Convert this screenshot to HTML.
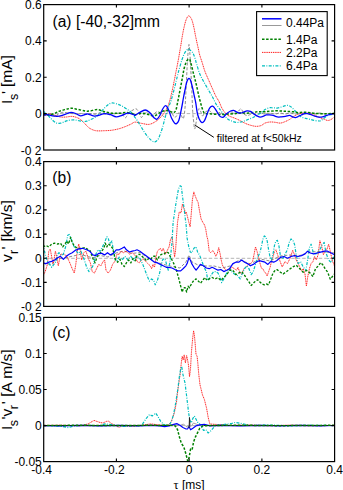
<!DOCTYPE html>
<html><head><meta charset="utf-8"><style>
html,body{margin:0;padding:0;background:#fff;width:343px;height:490px;overflow:hidden}
svg{display:block}
text{font-family:"Liberation Sans",sans-serif;fill:#000}
.t{font-size:12px}
.ax{fill:none;stroke:#000;stroke-width:1.2}
.tk{stroke:#000;stroke-width:1.1}
</style></head><body>
<svg width="343" height="490" viewBox="0 0 343 490">
<rect width="343" height="490" fill="#fff"/>
<defs>
<clipPath id="ca"><rect x="43.7" y="4.6" width="290.9" height="145.4"/></clipPath>
<clipPath id="cb"><rect x="43.7" y="161.6" width="290.9" height="144.8"/></clipPath>
<clipPath id="cc"><rect x="43.7" y="317.4" width="290.9" height="144.2"/></clipPath>
</defs>
<path d="M43.7 113.6H334.6M43.7 258.3H334.6M43.7 425.6H334.6" stroke="#b4b4b4" stroke-width="1" stroke-dasharray="3.5 2" fill="none"/>
<!-- CURVES_A -->
<g fill="none" clip-path="url(#ca)" stroke-linejoin="round">
<path d="M43.0 114.1 C43.8 114.0 46.3 113.5 47.7 113.5 C49.1 113.5 50.0 113.6 51.2 114.1 C52.4 114.6 53.5 116.4 54.7 116.4 C55.9 116.4 56.9 114.8 58.2 114.1 C59.6 113.4 61.2 112.5 62.8 112.3 C64.3 112.1 65.9 112.7 67.5 112.9 C69.1 113.1 70.7 113.3 72.2 113.5 C73.8 113.7 75.2 114.1 76.8 114.1 C78.3 114.1 80.0 113.4 81.5 113.5 C83.0 113.6 84.6 114.5 86.0 114.5 C87.4 114.5 88.5 113.5 90.0 113.5 C91.5 113.5 93.3 114.3 95.0 114.2 C96.7 114.1 98.3 113.0 100.0 113.0 C101.7 113.0 103.3 113.9 105.0 114.0 C106.7 114.1 108.3 113.5 110.0 113.5 C111.7 113.5 113.3 113.8 115.0 113.8 C116.7 113.8 118.7 112.9 120.0 113.2 C121.3 113.5 122.1 114.7 123.0 115.5 C123.9 116.3 124.5 118.0 125.3 117.9 C126.0 117.8 126.7 116.0 127.5 115.0 C128.3 114.0 129.1 112.8 130.0 112.0 C130.9 111.2 132.0 110.5 133.0 110.0 C134.0 109.5 135.1 108.5 136.0 108.7 C136.9 109.0 137.8 110.5 138.5 111.5 C139.2 112.5 139.5 114.0 140.0 115.0 C140.5 116.0 140.9 117.6 141.5 117.5 C142.1 117.4 142.8 115.4 143.5 114.5 C144.2 113.6 145.1 112.0 146.0 112.0 C146.9 112.0 148.0 113.8 149.0 114.5 C150.0 115.2 151.0 116.2 152.0 116.0 C153.0 115.8 154.0 113.8 155.0 113.0 C156.0 112.2 157.0 111.3 158.0 111.5 C159.0 111.7 160.0 113.2 161.0 114.0 C162.0 114.8 163.0 116.7 164.0 116.5 C165.0 116.3 166.0 113.9 167.0 113.0 C168.0 112.1 169.1 110.8 170.0 111.0 C170.9 111.2 171.8 112.9 172.5 114.0 C173.2 115.1 173.8 117.2 174.5 117.5 C175.2 117.8 175.8 116.8 176.5 116.0 C177.2 115.2 177.8 113.3 178.5 113.0 C179.2 112.7 179.9 113.3 180.5 114.0 C181.1 114.7 181.5 116.2 182.0 117.0 C182.5 117.8 182.9 119.4 183.3 118.7 C183.7 118.0 184.1 116.1 184.5 113.0 C184.9 109.9 185.2 105.5 185.5 100.0 C185.8 94.5 186.2 86.7 186.5 80.0 C186.8 73.3 187.2 65.0 187.5 60.0 C187.8 55.0 188.1 52.6 188.3 50.0 C188.6 47.4 188.8 44.2 189.0 44.5 C189.2 44.8 189.6 48.6 189.8 52.0 C190.1 55.4 190.2 60.3 190.5 65.0 C190.8 69.7 191.1 75.0 191.3 80.0 C191.6 85.0 191.8 89.8 192.0 95.0 C192.2 100.2 192.5 107.6 192.7 111.3 C192.9 115.0 192.9 114.9 193.1 117.0 C193.3 119.1 193.8 122.0 194.0 124.0 C194.2 126.0 194.2 128.7 194.5 129.0 C194.8 129.3 195.1 127.8 195.5 126.0 C195.9 124.2 196.3 120.8 196.8 118.0 C197.3 115.2 198.0 110.2 198.6 109.0 C199.2 107.8 199.8 109.8 200.5 111.0 C201.2 112.2 201.8 115.7 202.5 116.0 C203.2 116.3 203.5 114.0 204.5 113.0 C205.5 112.0 207.4 110.3 208.7 110.3 C209.9 110.3 210.8 112.4 212.0 113.0 C213.2 113.6 214.7 114.1 216.0 114.0 C217.3 113.9 218.7 112.4 220.0 112.5 C221.3 112.6 222.7 114.4 224.0 114.5 C225.3 114.6 226.7 113.4 228.0 113.0 C229.3 112.6 230.7 111.8 232.0 112.0 C233.3 112.2 234.5 114.5 236.0 114.0 C237.5 113.5 239.5 108.8 240.8 108.8 C242.1 108.8 242.8 112.9 244.0 114.0 C245.2 115.1 246.7 115.6 248.0 115.5 C249.3 115.4 250.7 113.7 252.0 113.5 C253.3 113.3 254.7 114.6 256.0 114.5 C257.3 114.4 258.5 113.1 260.0 113.0 C261.5 112.9 263.3 114.0 265.0 114.0 C266.7 114.0 268.3 113.2 270.0 113.2 C271.7 113.2 273.3 114.0 275.0 114.0 C276.7 114.0 278.3 113.0 280.0 113.0 C281.7 113.0 283.3 114.0 285.0 114.0 C286.7 114.0 288.3 113.0 290.0 113.0 C291.7 113.0 293.3 114.0 295.0 114.0 C296.7 114.0 298.3 113.2 300.0 113.2 C301.7 113.2 303.3 114.0 305.0 114.0 C306.7 114.0 308.3 113.0 310.0 113.0 C311.7 113.0 313.3 114.0 315.0 114.0 C316.7 114.0 318.3 113.0 320.0 113.0 C321.7 113.0 323.3 113.9 325.0 114.0 C326.7 114.1 328.4 113.5 330.0 113.5 C331.6 113.5 333.8 113.8 334.5 113.8" stroke="#808080" stroke-width="0.9" stroke-dasharray="3 1.8"/>
<path d="M43.0 115.8 C43.6 115.6 45.3 115.0 46.5 114.7 C47.7 114.4 48.6 114.0 50.0 114.1 C51.4 114.2 53.0 114.7 54.7 115.2 C56.5 115.7 58.6 116.7 60.5 117.0 C62.4 117.3 64.3 117.1 66.3 117.0 C68.2 116.9 70.2 116.2 72.2 116.4 C74.2 116.6 76.3 117.2 78.0 118.0 C79.7 118.8 81.0 119.9 82.4 121.2 C83.9 122.5 85.4 124.4 86.7 125.6 C88.0 126.8 88.5 127.7 90.0 128.5 C91.5 129.3 93.4 130.3 95.8 130.7 C98.2 131.1 101.7 130.8 104.6 130.7 C107.5 130.6 110.4 130.5 113.3 130.0 C116.2 129.5 119.2 128.8 122.1 127.8 C125.0 126.8 128.7 125.2 130.8 124.2 C133.0 123.2 133.1 122.2 135.0 122.1 C136.9 122.0 139.9 123.1 142.3 123.5 C144.7 123.9 147.2 124.8 149.6 124.3 C152.0 123.8 154.7 122.2 156.9 120.6 C159.1 119.0 161.0 116.9 162.7 114.8 C164.4 112.7 165.9 110.1 167.1 107.8 C168.3 105.5 168.8 103.7 169.7 100.8 C170.5 97.9 171.4 94.0 172.2 90.6 C173.0 87.2 173.6 83.8 174.3 80.4 C175.0 77.0 175.6 73.6 176.3 70.2 C177.0 66.8 177.6 63.8 178.3 60.0 C179.0 56.2 179.8 51.2 180.5 47.3 C181.2 43.4 181.6 40.1 182.2 36.8 C182.8 33.5 183.3 30.4 184.0 27.5 C184.7 24.6 185.5 21.2 186.3 19.3 C187.1 17.4 187.8 15.8 188.7 15.8 C189.6 15.8 190.7 17.4 191.6 19.3 C192.5 21.2 193.2 24.6 193.9 27.5 C194.6 30.4 195.0 33.5 195.7 36.8 C196.4 40.1 197.3 44.3 198.0 47.3 C198.7 50.3 199.0 52.5 199.7 55.0 C200.4 57.5 201.1 59.3 202.0 62.0 C202.9 64.7 203.8 68.4 204.9 71.3 C206.0 74.2 207.1 76.6 208.4 79.5 C209.7 82.4 211.2 86.0 212.5 88.8 C213.8 91.6 214.9 94.4 216.0 96.5 C217.1 98.6 218.0 99.6 219.0 101.5 C220.0 103.4 220.8 106.1 221.9 108.1 C223.0 110.0 224.3 111.9 225.5 113.2 C226.7 114.5 227.6 115.2 229.2 116.1 C230.8 116.9 233.2 117.5 235.0 118.3 C236.8 119.0 238.0 119.6 240.0 120.6 C242.0 121.6 244.5 123.1 247.0 124.1 C249.5 125.0 252.9 126.0 255.2 126.3 C257.5 126.5 259.4 126.1 261.0 125.6 C262.6 125.1 263.5 123.7 265.0 123.1 C266.5 122.5 268.4 122.1 270.1 122.0 C271.8 121.9 273.5 122.1 275.2 122.3 C276.9 122.5 278.6 123.2 280.3 123.1 C282.0 123.0 283.9 122.1 285.4 121.5 C286.9 120.9 288.1 120.3 289.5 119.5 C290.9 118.7 292.2 117.2 293.6 116.4 C295.0 115.6 296.4 114.9 297.7 114.4 C299.0 113.9 300.1 113.4 301.7 113.2 C303.3 113.0 305.3 112.8 307.5 113.2 C309.7 113.6 312.7 114.7 314.8 115.4 C316.9 116.2 318.5 117.0 320.1 117.7 C321.7 118.4 323.3 118.9 324.6 119.4 C325.9 119.9 326.8 120.5 327.9 120.5 C329.0 120.5 330.3 119.9 331.2 119.4 C332.1 118.9 332.8 118.1 333.4 117.7 C334.0 117.3 334.4 117.1 334.6 117.0" stroke="#ff2020" stroke-width="0.95" stroke-dasharray="1.2 0.6"/>
<path d="M43.0 110.9 C43.6 111.4 45.3 112.9 46.5 114.0 C47.7 115.1 48.8 116.3 50.0 117.5 C51.2 118.7 52.3 120.0 53.5 121.0 C54.7 122.0 55.8 122.8 57.0 123.2 C58.2 123.6 59.3 123.4 60.5 123.2 C61.7 123.0 62.8 122.3 64.0 121.9 C65.2 121.5 66.0 120.9 67.5 120.6 C69.0 120.3 71.5 119.9 73.3 119.9 C75.0 119.9 76.4 120.2 78.0 120.5 C79.6 120.8 81.5 121.4 83.0 121.5 C84.5 121.6 85.5 121.5 86.7 121.2 C87.9 120.9 88.5 120.5 90.0 119.8 C91.5 119.1 93.8 118.4 95.8 116.9 C97.8 115.4 99.8 113.0 101.7 111.0 C103.7 109.0 105.8 106.5 107.5 105.2 C109.2 103.9 110.2 103.2 111.9 103.0 C113.6 102.8 116.0 103.7 117.7 104.2 C119.4 104.7 120.6 105.3 122.0 106.0 C123.4 106.7 124.6 107.6 126.0 108.6 C127.4 109.6 128.9 110.2 130.5 111.8 C132.1 113.4 133.9 115.8 135.5 118.0 C137.1 120.2 138.6 122.8 140.0 125.0 C141.4 127.2 142.7 129.5 144.0 131.5 C145.3 133.5 146.8 135.5 148.0 137.0 C149.2 138.5 150.5 139.7 151.5 140.5 C152.5 141.3 153.2 141.7 154.0 141.8 C154.8 141.9 155.8 141.6 156.5 141.0 C157.2 140.4 157.8 139.8 158.5 138.5 C159.2 137.2 159.8 135.3 160.5 133.5 C161.2 131.7 161.8 129.8 162.5 127.5 C163.2 125.2 163.9 122.3 164.5 120.0 C165.1 117.7 165.6 115.8 166.3 113.5 C167.0 111.2 168.0 108.7 168.8 106.5 C169.6 104.3 170.4 102.9 171.2 100.2 C172.0 97.5 173.0 93.9 173.8 90.6 C174.7 87.3 175.5 83.8 176.3 80.4 C177.2 77.0 178.0 73.6 178.9 70.2 C179.8 66.8 181.1 62.6 181.9 60.0 C182.8 57.4 183.3 55.8 184.0 54.3 C184.7 52.8 185.3 51.9 186.0 51.0 C186.7 50.1 187.4 49.3 188.1 49.1 C188.8 48.9 189.3 49.5 190.0 50.0 C190.7 50.5 191.6 51.2 192.2 52.0 C192.8 52.8 193.3 53.9 193.8 55.0 C194.3 56.1 194.6 57.0 195.1 58.5 C195.6 60.0 195.9 61.8 196.7 64.3 C197.5 66.8 198.6 71.0 199.7 73.7 C200.8 76.4 201.8 78.2 203.2 80.7 C204.5 83.2 206.2 86.1 207.8 88.8 C209.4 91.5 211.1 94.5 212.5 97.0 C213.9 99.5 214.9 102.2 216.0 104.0 C217.1 105.8 217.8 106.4 219.0 108.1 C220.2 109.8 221.9 112.2 223.3 114.0 C224.8 115.8 226.2 117.8 227.7 119.0 C229.2 120.2 230.6 120.6 232.1 121.2 C233.6 121.8 234.9 122.4 236.4 122.5 C237.9 122.6 239.5 122.2 240.8 122.0 C242.1 121.8 243.1 121.5 244.4 121.0 C245.7 120.5 247.2 119.8 248.7 119.2 C250.1 118.6 251.6 118.2 253.1 117.5 C254.6 116.8 256.0 115.8 257.5 114.9 C259.0 114.0 260.6 113.1 261.9 112.2 C263.1 111.3 263.8 110.2 265.0 109.5 C266.2 108.8 267.7 108.1 269.1 107.8 C270.5 107.5 271.9 107.8 273.2 107.8 C274.5 107.8 275.8 108.2 277.2 108.1 C278.6 108.0 279.9 107.4 281.3 107.0 C282.7 106.6 284.2 106.0 285.4 105.7 C286.6 105.4 287.5 105.2 288.5 105.4 C289.5 105.7 290.5 106.4 291.5 107.2 C292.5 108.0 293.6 109.3 294.6 110.3 C295.6 111.3 296.4 112.3 297.5 113.4 C298.6 114.5 299.9 116.2 301.3 117.0 C302.7 117.8 304.3 117.9 305.8 118.3 C307.3 118.7 308.7 119.0 310.2 119.4 C311.7 119.8 313.1 120.2 314.6 120.5 C316.1 120.8 317.9 121.0 319.0 121.0 C320.1 121.0 320.4 121.0 321.3 120.5 C322.2 120.0 323.5 118.5 324.6 117.7 C325.7 116.9 326.6 116.0 327.9 115.5 C329.2 115.0 331.2 114.6 332.3 114.4 C333.4 114.2 334.2 114.2 334.6 114.2" stroke="#00bfbf" stroke-width="1.2" stroke-dasharray="3 1.4 0.9 1.4"/>
<path d="M43.0 114.2 C43.6 114.3 45.3 114.7 46.5 114.8 C47.7 114.9 48.5 115.3 50.0 115.0 C51.5 114.7 53.8 113.7 55.2 113.1 C56.7 112.5 57.4 111.9 58.7 111.4 C60.0 110.9 61.6 110.5 63.1 110.1 C64.6 109.7 66.0 109.2 67.5 108.9 C69.0 108.6 70.5 108.2 72.2 108.3 C74.0 108.4 75.8 109.0 78.0 109.4 C80.2 109.9 83.3 110.7 85.3 111.0 C87.3 111.3 88.0 111.2 90.0 111.0 C92.0 110.8 94.9 109.5 97.3 109.6 C99.7 109.7 102.2 111.2 104.6 111.8 C107.0 112.4 109.5 113.0 111.9 113.2 C114.3 113.4 116.8 113.3 119.2 113.2 C121.6 113.1 124.0 112.4 126.4 112.5 C128.8 112.6 132.3 113.6 133.7 114.0 C135.1 114.4 133.6 114.9 135.0 114.8 C136.4 114.7 139.9 113.3 142.3 113.3 C144.7 113.3 147.4 114.4 149.6 114.8 C151.8 115.2 153.5 116.0 155.4 115.5 C157.3 115.0 159.2 112.8 161.2 111.9 C163.1 111.1 165.4 110.4 167.1 110.4 C168.8 110.4 170.2 111.6 171.4 111.9 C172.6 112.2 173.2 112.9 174.0 112.5 C174.8 112.1 175.3 111.7 176.0 109.7 C176.7 107.8 177.2 104.0 177.9 100.8 C178.6 97.6 179.2 94.0 179.9 90.6 C180.6 87.2 181.3 83.5 181.9 80.4 C182.5 77.3 183.0 74.2 183.4 72.0 C183.8 69.8 184.1 68.6 184.5 67.0 C184.9 65.4 185.5 63.7 186.0 62.5 C186.5 61.3 187.0 60.5 187.5 60.0 C188.0 59.5 188.4 59.2 188.8 59.2 C189.2 59.2 189.6 59.0 190.0 60.0 C190.4 61.0 190.9 63.0 191.5 65.5 C192.1 68.0 193.0 71.7 193.8 74.8 C194.6 77.9 195.4 80.9 196.2 84.2 C197.0 87.5 197.9 91.9 198.5 94.6 C199.1 97.3 199.4 98.2 199.9 100.2 C200.4 102.2 201.0 104.5 201.6 106.4 C202.2 108.3 202.8 110.4 203.4 111.6 C204.0 112.8 204.1 113.2 205.1 113.6 C206.1 114.0 206.7 113.6 209.5 113.8 C212.3 114.0 216.9 114.6 222.0 114.5 C227.1 114.4 235.6 113.3 240.0 113.1 C244.4 112.9 245.8 113.3 248.7 113.1 C251.6 112.9 254.8 112.0 257.5 111.8 C260.2 111.6 262.1 112.0 265.0 111.8 C267.9 111.6 271.8 110.9 275.2 110.8 C278.6 110.7 282.3 111.1 285.4 111.3 C288.5 111.5 291.5 111.6 293.6 111.8 C295.7 112.0 296.2 112.6 298.0 112.7 C299.8 112.8 301.8 112.1 304.6 112.2 C307.4 112.3 311.1 113.0 314.6 113.3 C318.1 113.6 322.4 113.8 325.7 113.8 C329.0 113.8 333.1 113.4 334.6 113.3" stroke="#008000" stroke-width="1.5" stroke-dasharray="2.5 1.6"/>
<path d="M43.0 115.2 C43.8 115.1 46.2 114.6 47.7 114.7 C49.2 114.8 50.8 115.5 52.3 115.8 C53.8 116.1 55.3 116.5 57.0 116.4 C58.7 116.3 60.5 115.8 62.3 115.3 C64.0 114.8 66.0 114.0 67.5 113.5 C69.0 113.0 69.6 112.3 71.0 112.3 C72.4 112.3 74.1 112.9 75.7 113.5 C77.3 114.1 78.7 115.7 80.5 115.8 C82.3 115.9 85.1 114.2 86.7 114.0 C88.3 113.8 88.7 114.4 90.0 114.7 C91.3 115.0 93.0 116.0 94.4 116.1 C95.9 116.2 97.0 115.8 98.7 115.4 C100.4 115.0 102.6 113.8 104.6 113.7 C106.5 113.6 108.5 114.2 110.4 114.7 C112.3 115.2 114.2 116.8 116.2 116.9 C118.2 117.0 120.1 116.0 122.1 115.4 C124.0 114.8 126.0 113.3 127.9 113.2 C129.8 113.1 132.5 114.4 133.7 114.7 C134.9 115.0 134.1 115.7 135.0 115.3 C135.9 114.9 137.7 113.5 139.4 112.6 C141.1 111.7 143.5 110.0 145.2 110.0 C146.9 110.0 148.1 111.3 149.6 112.6 C151.1 113.9 152.8 116.6 154.0 117.7 C155.2 118.8 155.9 119.6 156.9 119.2 C157.9 118.8 158.8 117.2 159.8 115.5 C160.8 113.8 161.7 110.6 162.7 109.0 C163.7 107.4 164.6 105.6 165.6 105.7 C166.6 105.8 167.5 107.7 168.5 109.7 C169.5 111.7 170.4 115.5 171.4 117.7 C172.4 119.9 173.6 121.8 174.4 122.8 C175.2 123.8 175.8 124.0 176.5 123.6 C177.2 123.2 178.1 122.2 178.8 120.4 C179.5 118.6 180.1 115.4 180.6 113.0 C181.1 110.6 181.5 108.6 182.0 106.0 C182.5 103.4 183.0 100.2 183.5 97.5 C184.0 94.8 184.5 92.4 185.0 90.0 C185.5 87.6 186.0 84.8 186.5 83.0 C187.0 81.2 187.5 80.0 188.0 79.2 C188.5 78.5 188.9 78.3 189.3 78.5 C189.7 78.7 190.0 78.8 190.5 80.3 C191.0 81.8 191.8 84.7 192.5 87.5 C193.2 90.3 193.9 94.3 194.5 97.0 C195.1 99.7 195.5 101.1 195.9 103.7 C196.3 106.3 196.7 110.0 197.2 112.5 C197.7 115.0 198.3 116.9 199.0 118.6 C199.7 120.2 200.7 122.0 201.6 122.4 C202.5 122.8 203.4 122.3 204.2 121.2 C205.0 120.1 205.7 117.9 206.4 116.0 C207.1 114.1 207.9 111.4 208.6 109.9 C209.3 108.4 210.1 107.4 210.8 106.8 C211.5 106.2 211.9 106.0 212.6 106.2 C213.2 106.4 213.9 107.0 214.7 108.1 C215.5 109.1 216.5 111.1 217.4 112.5 C218.3 113.9 219.2 115.6 220.0 116.4 C220.8 117.2 221.8 117.3 222.5 117.3 C223.2 117.3 223.9 116.8 224.5 116.2 C225.1 115.7 225.2 114.9 226.2 114.0 C227.2 113.1 229.4 111.6 230.6 111.0 C231.8 110.4 232.5 110.2 233.5 110.3 C234.5 110.4 235.3 111.3 236.4 111.8 C237.5 112.3 238.8 113.0 240.0 113.1 C241.2 113.2 242.3 112.6 243.5 112.2 C244.7 111.8 245.8 111.0 247.0 110.9 C248.2 110.8 249.3 110.9 250.5 111.4 C251.7 111.9 252.8 113.2 254.0 114.0 C255.2 114.8 256.5 115.7 257.5 116.2 C258.5 116.7 259.1 117.1 260.1 117.1 C261.1 117.1 262.6 116.6 263.6 116.2 C264.6 115.8 265.3 115.1 266.2 114.9 C267.1 114.7 267.9 114.8 269.1 114.9 C270.3 115.0 271.9 115.1 273.2 115.4 C274.5 115.7 275.8 116.7 277.2 116.9 C278.6 117.2 279.9 117.0 281.3 116.9 C282.7 116.8 284.0 116.7 285.4 116.4 C286.8 116.2 288.3 115.3 289.5 115.4 C290.7 115.5 291.6 116.5 292.6 116.9 C293.6 117.3 294.7 117.6 295.6 117.6 C296.5 117.5 297.1 117.0 298.0 116.6 C298.9 116.2 300.0 115.5 301.3 115.0 C302.6 114.5 304.3 113.4 305.8 113.3 C307.3 113.2 308.7 113.9 310.2 114.4 C311.7 114.9 313.1 115.6 314.6 116.1 C316.1 116.6 317.5 117.1 319.0 117.2 C320.5 117.3 322.0 117.0 323.5 116.6 C325.0 116.2 326.4 115.5 327.9 115.0 C329.4 114.5 331.2 114.0 332.3 113.8 C333.4 113.6 334.2 113.8 334.6 113.8" stroke="#0000ff" stroke-width="1.3"/>
</g>
<!-- /CURVES_A -->
<!-- CURVES_B -->
<g fill="none" clip-path="url(#cb)" stroke-linejoin="round">
<path d="M43.0 263.6 L51.7 264.4 L57.6 258.5 L64.9 257.8 L75.1 255.6 L80.9 254.2 L86.7 256.3 L93.0 257.8 L100.0 255.5 L108.0 257.0 L116.0 253.0 L124.0 251.0 L132.0 253.5 L140.0 252.5 L148.0 258.0 L156.0 262.0 L164.0 264.5 L172.0 266.5 L180.0 268.0 L186.0 262.0 L189.0 255.0 L192.0 262.0 L198.0 265.0 L206.0 266.0 L214.0 266.0 L222.0 268.0 L230.0 266.0 L240.0 259.5 L250.0 264.0 L260.0 259.0 L270.0 261.0 L280.0 256.0 L290.0 255.0 L300.0 255.5 L310.0 252.0 L320.0 251.5 L334.5 253.0" stroke="#808080" stroke-width="0.9" stroke-dasharray="3 1.8"/>
<path d="M43.0 276.0 L45.2 271.6 L47.4 264.4 L48.8 251.2 L50.3 249.1 L51.7 257.1 L53.2 264.4 L55.4 251.2 L56.8 257.1 L58.3 265.8 L60.5 254.2 L63.4 254.2 L66.3 255.6 L69.2 261.4 L72.2 268.7 L74.3 273.1 L75.8 264.4 L77.3 251.2 L78.7 244.0 L80.2 249.8 L81.6 260.0 L83.8 252.7 L86.0 251.2 L88.2 258.5 L90.4 262.9 L92.2 271.6 L94.4 273.1 L96.6 268.7 L98.7 264.4 L100.9 265.8 L103.1 261.4 L104.6 260.0 L106.0 270.2 L108.2 273.1 L110.4 270.2 L112.6 264.4 L114.8 261.4 L117.0 254.2 L119.2 254.2 L121.3 251.2 L123.5 252.7 L126.4 251.2 L129.4 254.2 L132.3 252.7 L135.2 255.6 L137.0 261.4 L139.2 262.9 L141.4 260.0 L143.6 259.3 L145.7 261.4 L147.9 263.6 L150.1 265.8 L151.6 268.7 L153.0 264.4 L154.5 267.3 L156.0 257.1 L157.4 251.2 L158.9 249.8 L160.3 248.3 L161.8 251.2 L163.2 248.3 L165.4 254.2 L167.6 249.8 L169.1 246.9 L170.5 239.6 L172.0 236.7 L173.4 246.9 L174.6 257.1 L175.6 249.8 L176.7 233.7 L177.5 222.5 L179.2 212.0 L181.0 212.9 L182.4 204.1 L183.6 207.6 L184.5 209.4 L185.4 213.7 L186.2 212.0 L187.6 217.2 L188.9 222.5 L190.1 226.8 L191.1 215.5 L192.4 199.7 L193.8 191.9 L195.0 195.4 L196.7 199.7 L198.1 202.4 L199.4 210.2 L201.1 219.0 L202.9 222.5 L204.6 225.1 L205.8 229.5 L206.9 236.5 L207.8 239.6 L209.2 251.2 L210.7 252.7 L212.9 250.5 L214.3 252.7 L215.8 256.3 L217.3 253.4 L218.7 247.6 L220.2 254.2 L221.2 260.0 L222.4 265.1 L224.5 268.7 L226.7 270.2 L229.6 268.7 L232.2 267.3 L234.4 268.7 L236.6 270.2 L238.0 267.3 L239.5 271.6 L241.7 274.6 L243.8 268.7 L246.0 267.3 L248.2 264.4 L250.4 263.6 L252.6 261.4 L254.1 254.2 L255.5 246.9 L257.0 251.2 L258.4 257.1 L259.9 262.9 L261.3 268.0 L262.8 268.7 L264.3 271.6 L265.7 273.1 L267.2 276.0 L268.6 271.6 L270.1 267.3 L271.5 261.4 L273.0 257.1 L274.5 251.2 L275.9 249.8 L277.4 254.2 L279.6 260.0 L282.2 267.0 L284.9 261.7 L287.5 263.5 L290.1 258.2 L292.7 250.4 L294.5 254.7 L296.2 260.0 L298.9 265.2 L301.5 270.5 L303.2 268.7 L305.0 274.0 L306.4 286.2 L307.6 277.5 L309.4 268.7 L311.1 263.5 L312.9 261.7 L314.6 256.5 L316.4 260.0 L318.1 254.7 L319.9 240.7 L321.6 246.0 L323.4 254.7 L325.1 251.2 L326.9 249.5 L328.6 244.2 L330.3 251.2 L332.1 260.0 L334.5 266.0" stroke="#ff2020" stroke-width="0.95" stroke-dasharray="1.2 0.6"/>
<path d="M43.0 244.0 L45.2 254.2 L47.4 261.4 L49.6 264.4 L51.7 267.3 L53.9 264.4 L56.1 261.4 L57.6 254.2 L59.0 252.7 L61.2 255.6 L63.4 254.2 L65.6 246.9 L67.8 235.2 L69.2 234.5 L71.4 239.6 L73.6 245.4 L75.8 249.8 L78.0 253.4 L80.9 251.2 L83.8 258.5 L86.7 267.3 L88.9 271.6 L90.0 269.0 L92.2 267.3 L93.6 264.4 L95.8 254.2 L98.0 249.8 L100.2 251.2 L102.4 246.9 L104.6 242.5 L106.8 236.7 L108.2 238.1 L109.7 244.0 L111.9 241.0 L113.3 249.8 L114.8 258.5 L117.0 261.4 L119.2 257.1 L122.1 260.0 L125.0 256.3 L127.9 260.0 L130.8 256.3 L133.7 260.0 L136.6 256.3 L139.9 258.5 L142.8 264.4 L145.0 270.2 L147.2 276.0 L149.4 281.1 L151.6 278.9 L153.8 280.4 L155.2 284.8 L157.4 280.4 L159.6 273.1 L161.1 265.8 L162.5 260.0 L164.0 258.5 L165.4 260.0 L166.9 265.8 L168.3 270.2 L169.8 262.9 L170.8 254.2 L172.0 242.5 L173.1 222.5 L175.7 205.0 L178.4 189.2 L180.1 185.7 L181.3 186.6 L182.7 198.0 L184.5 212.0 L186.2 226.0 L187.1 238.1 L188.8 246.9 L190.3 252.0 L191.7 252.7 L193.9 248.3 L196.1 246.9 L197.6 252.0 L199.8 255.6 L202.0 261.4 L204.1 267.3 L206.3 271.6 L207.8 280.4 L209.2 278.9 L211.4 274.6 L213.6 271.6 L215.8 271.6 L218.0 273.1 L220.2 277.5 L221.6 282.6 L223.8 278.9 L226.7 273.1 L229.6 268.7 L232.9 273.1 L235.8 274.6 L238.0 276.0 L240.2 278.9 L242.4 273.1 L244.6 268.7 L246.8 265.8 L249.0 268.7 L251.1 274.6 L253.3 271.6 L255.5 264.4 L257.7 257.1 L259.9 252.7 L261.3 246.9 L262.8 239.6 L264.3 235.9 L265.7 236.7 L267.2 241.0 L268.6 249.8 L270.1 257.1 L271.5 260.0 L273.0 254.2 L274.5 245.4 L275.9 241.0 L277.4 240.3 L278.8 245.0 L280.5 256.5 L283.1 258.2 L285.7 253.0 L287.5 249.5 L289.2 242.5 L291.0 239.0 L292.7 239.9 L294.5 244.2 L296.2 254.7 L298.0 263.5 L300.6 261.7 L303.2 267.0 L305.9 270.5 L307.6 260.0 L309.4 247.7 L311.1 244.2 L312.9 251.2 L314.6 254.7 L317.2 253.0 L319.9 249.5 L322.5 244.2 L324.2 242.5 L326.0 253.0 L328.6 260.0 L331.2 262.6 L334.5 255.0" stroke="#00bfbf" stroke-width="1.2" stroke-dasharray="3 1.4 0.9 1.4"/>
<path d="M43.0 246.9 L45.9 245.4 L48.8 246.9 L51.7 244.0 L54.7 243.2 L57.6 244.0 L60.5 243.2 L62.7 246.9 L64.9 244.0 L67.0 241.0 L68.5 244.0 L70.7 237.4 L72.2 242.5 L74.3 246.1 L77.3 248.3 L80.9 248.3 L85.3 247.6 L88.0 249.5 L90.0 250.5 L92.9 258.5 L95.1 262.9 L97.3 256.3 L99.5 254.2 L101.7 251.2 L103.8 248.3 L105.3 243.2 L106.8 246.9 L108.2 244.0 L110.4 245.4 L112.6 248.3 L114.1 254.2 L115.5 260.0 L117.7 262.2 L119.9 259.3 L122.1 264.4 L124.3 266.5 L126.4 262.9 L128.6 260.0 L130.8 262.9 L133.0 258.5 L135.2 260.7 L137.0 255.6 L139.2 254.2 L141.4 255.6 L144.3 258.5 L146.5 260.7 L148.7 258.5 L150.8 259.3 L153.0 256.3 L155.2 256.3 L157.4 260.0 L159.6 255.6 L161.8 254.2 L164.0 254.2 L166.2 252.0 L168.3 252.7 L169.8 255.6 L172.0 260.0 L174.2 264.4 L176.4 270.2 L178.5 277.5 L180.7 286.2 L182.2 292.1 L183.6 287.7 L185.2 287.7 L186.6 292.1 L188.1 286.2 L189.6 287.7 L191.7 283.3 L193.9 280.4 L196.1 278.9 L198.3 281.1 L200.5 283.3 L202.7 280.4 L204.9 277.5 L207.1 280.4 L209.2 278.9 L212.2 277.5 L215.1 278.9 L218.0 277.5 L220.9 280.4 L223.8 277.5 L226.7 274.6 L229.6 270.2 L232.9 270.2 L235.8 274.6 L238.7 273.1 L241.7 271.6 L244.6 275.3 L246.8 278.9 L249.0 281.9 L251.1 285.5 L253.3 283.3 L255.5 281.1 L257.7 279.7 L259.9 281.9 L262.1 284.0 L264.3 284.8 L266.4 284.0 L268.6 284.8 L270.8 278.9 L273.0 273.1 L275.2 270.2 L277.0 269.6 L280.5 272.2 L283.1 274.0 L285.7 272.2 L289.2 269.6 L292.7 267.0 L296.2 265.2 L299.7 268.7 L303.2 272.2 L306.7 270.5 L310.2 273.1 L312.9 276.6 L315.5 268.7 L318.1 266.1 L320.7 262.6 L322.5 264.4 L325.1 268.7 L327.7 272.2 L330.3 279.2 L333.0 275.7 L334.5 274.0" stroke="#008000" stroke-width="1.35" stroke-dasharray="2.4 1.6"/>
<path d="M43.0 262.9 L45.9 263.6 L48.8 262.2 L51.7 261.4 L54.7 260.0 L57.6 257.8 L60.5 256.3 L63.4 259.3 L66.3 256.3 L69.2 254.2 L72.2 252.7 L75.1 250.5 L78.0 249.1 L82.4 248.3 L86.7 249.8 L89.6 251.2 L92.9 254.9 L95.8 255.6 L98.7 253.4 L101.7 253.4 L104.6 254.9 L107.5 252.7 L110.4 254.9 L113.3 253.4 L116.2 249.8 L119.2 249.8 L122.1 248.3 L124.3 246.9 L126.4 249.8 L129.4 252.0 L132.3 251.2 L135.2 250.5 L137.0 249.8 L139.9 251.2 L142.8 253.4 L145.7 255.6 L148.7 257.8 L151.6 260.0 L154.5 262.2 L157.4 262.9 L160.3 264.4 L163.2 265.8 L166.2 267.3 L169.1 267.3 L172.0 268.0 L174.9 269.5 L177.8 270.9 L180.7 270.9 L183.3 268.5 L185.9 265.8 L187.4 262.9 L188.8 257.8 L190.3 260.0 L191.7 263.6 L193.9 267.3 L196.1 270.2 L198.3 267.3 L200.5 264.4 L203.4 265.8 L206.3 268.0 L209.2 268.7 L212.2 267.3 L215.1 268.7 L218.0 270.2 L220.9 269.5 L223.8 271.6 L226.7 270.2 L229.6 268.7 L232.9 263.6 L235.8 262.2 L238.7 262.2 L241.7 260.0 L244.6 262.2 L247.5 263.6 L250.4 265.8 L253.3 264.4 L256.2 262.2 L259.2 260.7 L262.1 261.4 L265.0 262.2 L267.9 264.4 L270.8 261.4 L273.7 262.2 L276.6 260.7 L280.5 257.4 L284.0 256.5 L287.5 258.2 L291.0 256.5 L294.5 255.6 L298.0 256.5 L301.5 255.6 L305.0 253.9 L307.6 251.2 L310.2 253.0 L313.7 253.9 L317.2 253.0 L320.7 252.1 L324.2 251.2 L327.7 251.2 L331.2 253.0 L334.5 254.7" stroke="#0000ff" stroke-width="1.2"/>
</g>
<!-- /CURVES_B -->
<!-- CURVES_C -->
<g fill="none" clip-path="url(#cc)" stroke-linejoin="round">
<path d="M43.0 425.5 L60.0 425.2 L80.0 425.8 L88.0 424.0 L94.0 420.4 L100.0 422.5 L103.0 423.0 L106.3 421.4 L108.5 421.2 L112.0 423.9 L115.5 425.6 L119.0 427.4 L122.5 425.6 L131.2 426.5 L140.0 425.6 L150.5 423.9 L157.5 424.7 L165.0 425.6 L168.6 425.0 L171.4 421.4 L174.3 412.9 L176.5 402.0 L177.6 392.0 L178.8 383.3 L180.3 373.1 L181.3 362.9 L182.2 356.3 L183.2 360.0 L184.2 354.9 L185.4 362.9 L186.6 355.6 L187.6 360.0 L188.6 365.8 L189.5 376.7 L190.5 368.7 L191.5 351.2 L192.7 338.1 L193.6 330.8 L194.4 335.2 L195.3 345.4 L196.0 354.2 L197.1 356.3 L197.8 362.9 L198.8 374.6 L200.0 384.8 L201.3 390.0 L202.5 395.0 L204.3 399.2 L206.6 408.3 L208.2 417.5 L209.7 423.6 L211.1 424.1 L217.2 424.5 L230.0 425.5 L250.0 425.0 L270.0 425.8 L290.0 425.2 L310.0 425.8 L334.5 425.4" stroke="#ff2020" stroke-width="0.95" stroke-dasharray="1.2 0.6"/>
<path d="M43.0 425.5 L55.0 425.8 L62.0 426.5 L68.5 427.6 L74.0 426.0 L85.0 425.3 L100.0 425.6 L105.0 423.9 L112.0 424.7 L122.5 426.5 L140.0 425.6 L142.6 423.9 L146.1 418.6 L149.6 414.5 L152.2 416.0 L155.7 413.1 L157.9 416.4 L160.7 421.4 L163.6 424.3 L166.4 425.7 L169.3 425.0 L171.4 421.4 L173.6 414.3 L175.7 402.9 L177.9 388.6 L179.3 377.1 L180.7 368.6 L181.7 366.4 L182.9 374.3 L185.0 382.9 L186.5 395.0 L188.3 410.0 L189.5 419.0 L190.5 421.5 L191.3 422.9 L192.9 418.3 L194.4 416.0 L195.9 419.0 L197.5 422.1 L199.0 422.9 L201.3 426.7 L203.6 430.5 L205.9 429.5 L208.1 433.0 L211.1 430.6 L215.2 425.5 L223.4 424.5 L231.5 423.5 L235.6 422.4 L241.7 423.5 L249.9 425.5 L270.0 425.0 L290.0 425.8 L310.0 425.2 L334.5 425.6" stroke="#00bfbf" stroke-width="1.2" stroke-dasharray="3 1.4 0.9 1.4"/>
<path d="M168.0 425.5 L175.0 425.0 L180.0 425.5 L183.5 424.0 L186.0 426.5 L188.0 427.0 L189.5 426.0 L191.0 426.5 L193.5 423.0 L196.0 424.0 L200.0 425.5 L206.0 425.5" stroke="#999" stroke-width="0.9"/>
<path d="M43.0 425.6 L60.0 425.9 L80.0 425.3 L100.0 425.8 L120.0 425.4 L140.0 425.8 L150.0 425.4 L160.0 425.9 L164.6 426.7 L169.2 425.9 L173.8 424.4 L176.8 423.6 L179.9 425.2 L182.9 427.5 L186.0 429.0 L187.5 429.0 L189.1 426.7 L190.6 429.8 L192.9 428.2 L195.9 425.9 L199.8 424.9 L204.3 424.4 L210.0 425.9 L220.0 425.4 L240.0 425.8 L260.0 425.3 L280.0 425.8 L300.0 425.4 L320.0 425.8 L334.5 425.5" stroke="#0000ff" stroke-width="1.2"/>
<path d="M43.7 425.5 L100.0 425.6 L150.0 425.4 L170.0 425.5 M204.0 425.5 L250.0 425.6 L300.0 425.4 L334.6 425.5" stroke="#1a1a1a" stroke-width="0.9"/>
<path d="M43.0 425.5 L80.0 425.3 L120.0 425.6 L150.0 425.3 L160.0 425.4 L169.2 425.2 L175.3 425.9 L177.6 429.8 L179.1 435.9 L181.4 443.5 L183.7 446.6 L186.0 454.2 L187.5 460.3 L188.3 461.1 L189.4 455.7 L190.6 448.9 L192.1 449.6 L193.6 442.0 L195.2 437.4 L197.5 432.8 L199.8 428.2 L202.8 425.9 L210.0 425.5 L240.0 425.2 L280.0 425.7 L334.5 425.3" stroke="#008000" stroke-width="1.5" stroke-dasharray="2.5 1.6"/>
<path d="M189.1 428.0 L189.5 417.5 L189.9 426.0" stroke="#222" stroke-width="1"/>
</g>
<!-- /CURVES_C -->
<!-- axes boxes -->
<rect class="ax" x="43.7" y="4.6" width="290.9" height="145.4"/>
<rect class="ax" x="43.7" y="161.6" width="290.9" height="144.8"/>
<rect class="ax" x="43.7" y="317.4" width="290.9" height="144.2"/>
<!-- ticks -->
<g class="tk">
<!-- panel a y ticks -->
<path d="M43.7 40.9h3M43.7 77.3h3M43.7 113.6h3M334.6 40.9h-3M334.6 77.3h-3M334.6 113.6h-3"/>
<!-- panel b y ticks -->
<path d="M43.7 185.8h3M43.7 209.9h3M43.7 234.1h3M43.7 258.3h3M43.7 282.4h3M334.6 185.8h-3M334.6 209.9h-3M334.6 234.1h-3M334.6 258.3h-3M334.6 282.4h-3"/>
<!-- panel c y ticks -->
<path d="M43.7 353.5h3M43.7 389.5h3M43.7 425.6h3M334.6 353.5h-3M334.6 389.5h-3M334.6 425.6h-3"/>
<!-- x ticks -->
<path d="M116.4 4.6v3M189.1 4.6v3M261.9 4.6v3M116.4 150v-3M189.1 150v-3M261.9 150v-3"/>
<path d="M116.4 161.6v3M189.1 161.6v3M261.9 161.6v3M116.4 306.4v-3M189.1 306.4v-3M261.9 306.4v-3"/>
<path d="M116.4 317.4v3M189.1 317.4v3M261.9 317.4v3M116.4 461.6v-3M189.1 461.6v-3M261.9 461.6v-3"/>
</g>
<!-- y tick labels -->
<g class="t" text-anchor="end">
<text x="41.8" y="8.8">0.6</text>
<text x="41.8" y="45.2">0.4</text>
<text x="41.8" y="81.6">0.2</text>
<text x="41.8" y="117.9">0</text>
<text x="41.5" y="155">-0 2</text>
<text x="41.8" y="165.8">0.4</text>
<text x="41.8" y="190.1">0.3</text>
<text x="41.8" y="214.2">0.2</text>
<text x="41.8" y="238.4">0.1</text>
<text x="41.8" y="262.6">0</text>
<text x="41.8" y="286.7">-0.1</text>
<text x="41.8" y="310.5">-0 2</text>
<text x="41.8" y="321.6">0.15</text>
<text x="41.8" y="357.8">0.1</text>
<text x="41.8" y="393.8">0.05</text>
<text x="41.8" y="429.9">0</text>
<text x="41.8" y="466.4">-0.05</text>
</g>
<!-- x tick labels -->
<g class="t" text-anchor="middle">
<text x="41.6" y="474.3">-0.4</text>
<text x="114.4" y="474.3">-0.2</text>
<text x="189.1" y="474.3">0</text>
<text x="261.9" y="474.3">0.2</text>
<text x="334.6" y="474.3">0.4</text>
</g>
<text x="189.1" y="488.5" font-size="12" text-anchor="middle"><tspan font-family="Liberation Serif" font-size="12.5">τ</tspan> [ms]</text>
<!-- panel labels -->
<text x="52.5" y="27" font-size="15.6">(a) [-40,-32]mm</text>
<text x="52.3" y="182.5" font-size="15.6">(b)</text>
<text x="52.3" y="338" font-size="15.6">(c)</text>
<!-- y axis labels -->
<g transform="rotate(-90)">
<text x="-101.9" y="12" font-size="15.5" text-anchor="middle">I</text>
<text x="-96.9" y="17.6" font-size="12.5" text-anchor="middle">s</text>
<text x="-92.5" y="12" font-size="15.5" text-anchor="middle">'</text>
<text x="-87" y="12" font-size="15.5">[mA]</text>
<text x="-258.1" y="12" font-size="15.5" text-anchor="middle">v</text>
<text x="-252" y="17.5" font-size="12.5" text-anchor="middle">r</text>
<text x="-248" y="12" font-size="15.5" text-anchor="middle">'</text>
<text x="-241.6" y="12" font-size="15.5">[km/s]</text>
<text x="-427.8" y="12" font-size="15.5" text-anchor="middle">I</text>
<text x="-423.1" y="17.6" font-size="12.5" text-anchor="middle">s</text>
<text x="-418" y="12" font-size="15.5" text-anchor="middle">'</text>
<text x="-412.6" y="12" font-size="15.5" text-anchor="middle">v</text>
<text x="-407.1" y="17.5" font-size="12.5" text-anchor="middle">r</text>
<text x="-402.7" y="12" font-size="15.5" text-anchor="middle">'</text>
<text x="-396.8" y="12" font-size="15.5">[A m/s]</text>
</g>
<!-- legend -->
<rect x="256.6" y="11.6" width="70.6" height="64" fill="#fff" stroke="#000" stroke-width="1.1"/>
<path d="M262 18.8h19.5" stroke="#00f" stroke-width="1.5"/>
<path d="M262 25.5h19.5" stroke="#999" stroke-width="1"/>
<path d="M262 39.2h19" stroke="#008000" stroke-width="1.6" stroke-dasharray="2.5 1.6"/>
<path d="M262 52.4h19.5" stroke="#ff1a1a" stroke-width="1" stroke-dasharray="1.4 0.8"/>
<path d="M262 65.9h19.5" stroke="#00bfbf" stroke-width="1.2" stroke-dasharray="3 1.4 0.9 1.4"/>
<g class="t">
<text x="286" y="26.5">0.44Pa</text>
<text x="286" y="43.5">1.4Pa</text>
<text x="286" y="56.7">2.2Pa</text>
<text x="286" y="70.2">6.4Pa</text>
</g>
<!-- annotation -->
<path d="M195.2 125.3L213.8 137.3" stroke="#000" stroke-width="1"/>
<text x="216.8" y="142.2" font-size="10.5">filtered at f&lt;50kHz</text>
</svg>
</body></html>
